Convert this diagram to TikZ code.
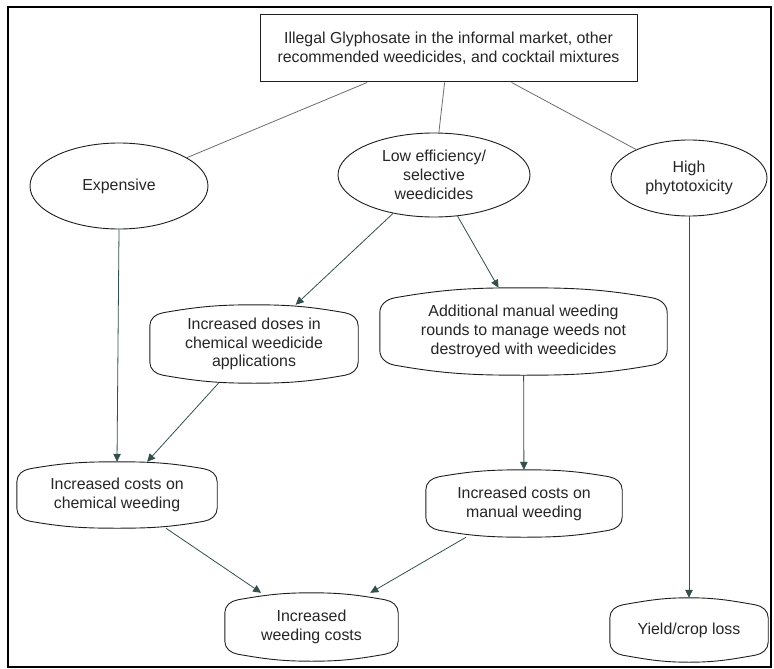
\documentclass[tikz,border=0pt]{standalone}
\usepackage{fontspec}
\setmainfont{Liberation Sans}
\usetikzlibrary{shapes.geometric,arrows.meta,calc}
\definecolor{arrowc}{HTML}{33504D}
\definecolor{linkc}{HTML}{6E6E6E}
\definecolor{edgec}{HTML}{1E1E1E}
\newcommand\blobline[3]{%
\draw[boxline] let \p1=(#1.north west), \p2=(#1.south east), \p3=(#1.north) in
 (\x1,\y1-#2pt-#3pt) to[out=90,in=190] (\x1+#3pt,\y1-#2pt) to[out=10,in=180] (\x3,\y1)
 to[out=0,in=170] (\x2-#3pt,\y1-#2pt) to[out=-10,in=90] (\x2,\y1-#2pt-#3pt)
 -- (\x2,\y2+#2pt+#3pt) to[out=-90,in=10] (\x2-#3pt,\y2+#2pt) to[out=190,in=0] (\x3,\y2)
 to[out=180,in=-10] (\x1+#3pt,\y2+#2pt) to[out=170,in=-90] (\x1,\y2+#2pt+#3pt) -- cycle;}
\begin{document}
\begin{tikzpicture}[x=1pt,y=1pt,
  font=\fontsize{15.9}{18.8}\selectfont,
  ell/.style={ellipse, draw=edgec, line width=0.9pt, inner sep=0pt, align=center, text=black!85},
  blobnode/.style={inner sep=0pt, align=center, text=black!85},
  boxline/.style={draw=edgec, line width=0.9pt},
  topbox/.style={draw=edgec, line width=1pt, inner sep=0pt, align=center, text=black!85},
  link/.style={draw=linkc, line width=0.8pt},
  arr/.style={draw=arrowc, line width=0.8pt, -{Triangle[length=8pt,width=7.5pt,fill=arrowc]}}]
\useasboundingbox (0,0) rectangle (774,-669);
\fill[white] (0,0) rectangle (774,-669);
\draw[line width=2pt, black] (8,-7) rectangle (771,-667);

\node[topbox, minimum width=377pt, minimum height=67pt] (top) at (448.5,-48.5)
  {Illegal Glyphosate in the informal market, other\\recommended weedicides, and cocktail mixtures};

\node[ell, minimum width=178pt, minimum height=86pt] (exp) at (119,-186) {Expensive};
\node[ell, minimum width=192pt, minimum height=84pt] (low) at (434,-175) {Low efficiency/\\selective\\weedicides};
\node[ell, minimum width=156pt, minimum height=76pt] (high) at (689,-178) {High\\phytotoxicity};

\node[blobnode, minimum width=208pt, minimum height=78pt] (doses) at (254,-344) {Increased doses in\\chemical weedicide\\applications};
\node[blobnode, minimum width=287pt, minimum height=87pt] (addl) at (523.5,-331.5) {Additional manual weeding\\rounds to manage weeds not\\destroyed with weedicides};
\node[blobnode, minimum width=200pt, minimum height=66pt] (chem) at (117,-495) {Increased costs on\\chemical weeding};
\node[blobnode, minimum width=196pt, minimum height=67pt] (manual) at (524,-503.5) {Increased costs on\\manual weeding};
\node[blobnode, minimum width=173pt, minimum height=68pt] (weed) at (311.5,-627) {Increased\\weeding costs};
\node[blobnode, minimum width=158pt, minimum height=64pt] (yield) at (689,-630) {Yield/crop loss};

\blobline{doses}{8}{13}
\blobline{addl}{10}{15}
\blobline{chem}{7}{13}
\blobline{manual}{7}{13}
\blobline{weed}{7}{13}
\blobline{yield}{7}{13}

\draw[link] (top) -- (exp);
\draw[link] (top) -- (low);
\draw[link] (top) -- (high);

\draw[arr] (exp.south) -- (chem.north);
\draw[arr] (low) -- (doses);
\draw[arr] (low) -- (addl);
\draw[arr] (doses) -- (chem);
\draw[arr] (addl) -- (manual);
\draw[arr] (chem) -- (weed);
\draw[arr] (manual) -- (weed);
\draw[arr] (high) -- (yield);
\end{tikzpicture}
\end{document}
